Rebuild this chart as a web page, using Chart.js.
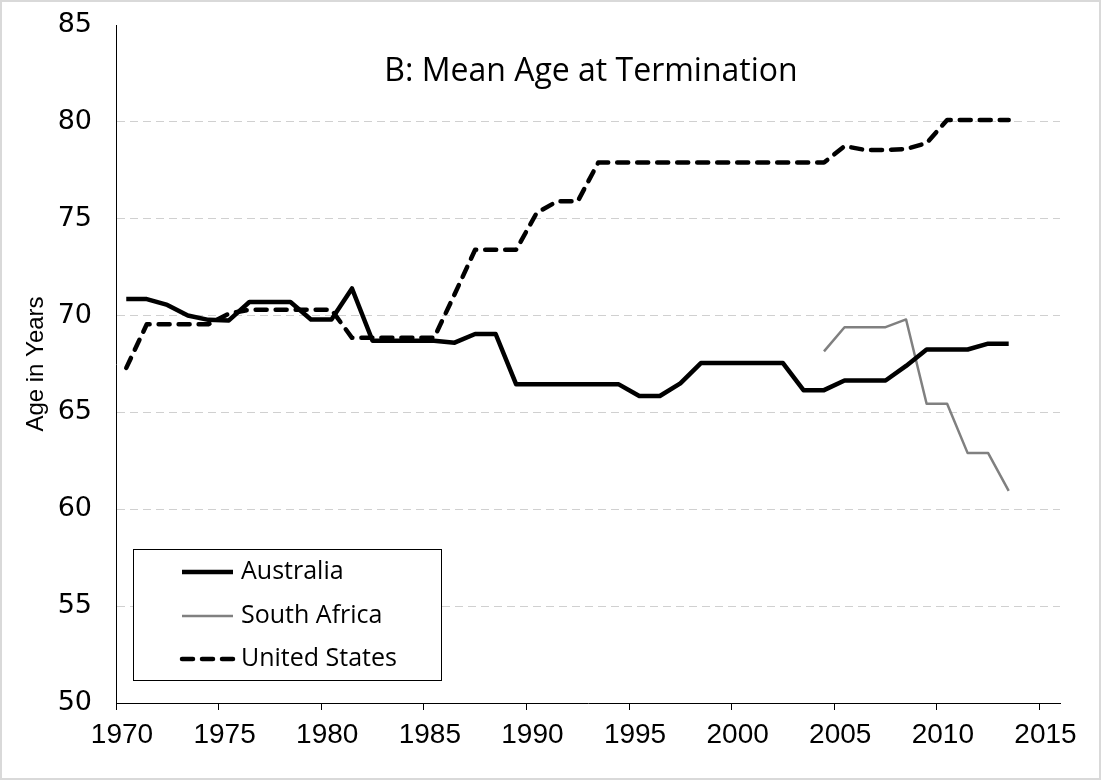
<!DOCTYPE html>
<html>
<head>
<meta charset="utf-8">
<script src="https://cdn.jsdelivr.net/npm/chart.js@4.4.1/dist/chart.umd.min.js"></script>
<style>
html,body{margin:0;padding:0;background:#fff;}
#wrap{width:1101px;height:780px;position:relative;}
</style>
</head>
<body>
<div id="wrap"><canvas id="c" width="1101" height="780"></canvas></div>
<script>
// ---- data ----
const years = [1970.5,1971.5,1972.5,1973.5,1974.5,1975.5,1976.5,1977.5,1978.5,1979.5,
               1980.5,1981.5,1982.5,1983.5,1984.5,1985.5,1986.5,1987.5,1988.5,1989.5,
               1990.5,1991.5,1992.5,1993.5,1994.5,1995.5,1996.5,1997.5,1998.5,1999.5,
               2000.5,2001.5,2002.5,2003.5,2004.5,2005.5,2006.5,2007.5,2008.5,2009.5,
               2010.5,2011.5,2012.5,2013.5];
const australia = [70.85,70.85,70.55,70.0,69.78,69.75,70.7,70.7,70.7,69.8,
                   69.8,71.4,68.7,68.7,68.7,68.7,68.6,69.05,69.05,66.45,
                   66.45,66.45,66.45,66.45,66.45,65.85,65.85,66.5,67.55,67.55,
                   67.55,67.55,67.55,66.15,66.15,66.65,66.65,66.65,67.4,68.25,
                   68.25,68.25,68.55,68.55];
const southAfrica = [null,null,null,null,null,null,null,null,null,null,
                     null,null,null,null,null,null,null,null,null,null,
                     null,null,null,null,null,null,null,null,null,null,
                     null,null,null,null,68.15,69.4,69.4,69.4,69.8,65.45,
                     65.45,62.9,62.9,60.95];
const unitedStates = [67.3,69.55,69.55,69.55,69.55,70.1,70.3,70.3,70.3,70.3,
                      70.3,68.85,68.85,68.85,68.85,68.85,71.1,73.4,73.4,73.4,
                      75.3,75.9,75.9,77.9,77.9,77.9,77.9,77.9,77.9,77.9,
                      77.9,77.9,77.9,77.9,77.9,78.75,78.55,78.55,78.6,78.9,
                      80.1,80.1,80.1,80.1];
const seriesNames = ['Australia', 'South Africa', 'United States'];
const xTicks = [1970,1975,1980,1985,1990,1995,2000,2005,2010,2015];
const yTicks = [50,55,60,65,70,75,80,85];
const chartTitle = 'B: Mean Age at Termination';
const yTitle = 'Age in Years';

// ---- chart ----
function pts(vals){ return years.map((yr,i)=>({x:yr, y:vals[i]})); }

const decor = {
  id: 'decor',
  beforeDraw(chart){
    const ctx = chart.ctx;
    ctx.save();
    ctx.fillStyle = '#fff';
    ctx.fillRect(0,0,chart.width,chart.height);
    ctx.restore();
  },
  afterDraw(chart){
    const ctx = chart.ctx;
    ctx.save();
    // outer frame
    ctx.strokeStyle = '#d9d9d9';
    ctx.lineWidth = 2;
    ctx.strokeRect(1,1,chart.width-2,chart.height-2);
    // title
    ctx.fillStyle = '#000';
    ctx.font = '32px "Open Sans"';
    ctx.textAlign = 'center';
    ctx.textBaseline = 'middle';
    ctx.fillText(chartTitle, 591, 72);
    // legend
    const bx = 133.5, by = 549.5, bw = 308, bh = 131;
    ctx.fillStyle = '#fff';
    ctx.fillRect(bx,by,bw,bh);
    ctx.strokeStyle = '#000';
    ctx.lineWidth = 1;
    ctx.strokeRect(bx,by,bw,bh);
    const rows = [572, 616, 659];
    chart.data.datasets.forEach((ds,i)=>{
      const y = rows[i];
      ctx.save();
      ctx.strokeStyle = ds.borderColor;
      ctx.lineWidth = ds.borderWidth;
      ctx.lineCap = ds.borderCapStyle || 'butt';
      ctx.setLineDash(ds.borderDash || []);
      ctx.beginPath();
      ctx.moveTo(182, y);
      ctx.lineTo(233, y);
      ctx.stroke();
      ctx.restore();
      ctx.fillStyle = '#000';
      ctx.font = '25px "Open Sans"';
      ctx.textAlign = 'left';
      ctx.textBaseline = 'middle';
      ctx.fillText(ds.label, 241, y);
    });
    ctx.restore();
  }
};

new Chart(document.getElementById('c'), {
  type: 'line',
  data: {
    datasets: [
      {label: seriesNames[0], data: pts(australia), borderColor: '#000', borderWidth: 4.5,
       pointRadius: 0, tension: 0, borderJoinStyle: 'round', borderCapStyle: 'butt', fill: false},
      {label: seriesNames[1], data: pts(southAfrica), borderColor: '#808080', borderWidth: 2.5,
       pointRadius: 0, tension: 0, borderJoinStyle: 'round', borderCapStyle: 'butt', fill: false, spanGaps: false},
      {label: seriesNames[2], data: pts(unitedStates), borderColor: '#000', borderWidth: 4.5,
       borderDash: [11, 9], borderCapStyle: 'round',
       pointRadius: 0, tension: 0, borderJoinStyle: 'round', fill: false}
    ]
  },
  options: {
    responsive: false,
    animation: false,
    devicePixelRatio: 1,
    layout: {padding: {top: 25, right: 41, left: 0, bottom: 0}},
    plugins: {legend: {display: false}, title: {display: false}, tooltip: {enabled: false}},
    scales: {
      x: {
        type: 'linear',
        min: 1970, max: 2016,
        afterFit(s){ s.height = 77; s.paddingLeft = 0; s.paddingRight = 0; },
        afterBuildTicks(s){ s.ticks = xTicks.map(v=>({value: v})); },
        grid: {drawOnChartArea: false, drawTicks: true, tickLength: 7, color: '#000', tickColor: '#000', lineWidth: 1},
        border: {display: true, color: '#000', width: 1},
        ticks: {
          color: '#000', padding: 8, labelOffset: 6, maxRotation: 0, autoSkip: false,
          font: {family: "'Liberation Sans Narrow', 'Arial Narrow', 'Liberation Sans'", size: 28},
          callback: (v)=> String(v)
        }
      },
      y: {
        type: 'linear',
        min: 50, max: 85,
        afterFit(s){ s.width = 116; s.paddingTop = 0; s.paddingBottom = 0; },
        afterBuildTicks(s){ s.ticks = yTicks.map(v=>({value: v})); },
        grid: {
          drawTicks: false, tickLength: 0, lineWidth: 1,
          color: (c)=> (c.tick && (c.tick.value === 50 || c.tick.value === 85)) ? 'rgba(0,0,0,0)' : '#d0d0d0'
        },
        border: {display: true, color: '#000', width: 1, dash: [8, 5]},
        ticks: {
          color: '#000', padding: 24,
          font: {family: "'DejaVu Sans'", size: 27},
          callback: (v)=> String(v)
        },
        title: {
          display: true, text: yTitle, color: '#000',
          font: {family: "'Liberation Sans'", size: 24},
          padding: {top: 22, bottom: 0}
        }
      }
    }
  },
  plugins: [decor]
});
</script>
</body>
</html>
